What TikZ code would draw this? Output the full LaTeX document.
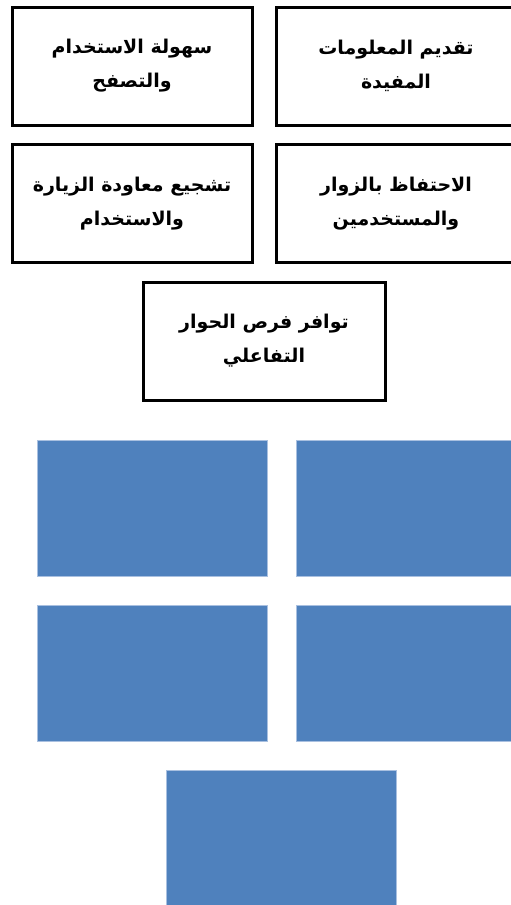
\documentclass[tikz,border=0pt]{standalone}
\usepackage{fontspec}
\TeXXeTstate=1
\newfontfamily\arabicfont[Script=Arabic]{DejaVu Sans}
\begin{document}
\begin{tikzpicture}[x=1pt,y=-1pt,
  txtbox/.style={draw=black,line width=3pt,fill=white,minimum width=240pt,minimum height=118pt,
    inner sep=0pt,align=center,font=\arabicfont\bfseries\fontsize{19}{34}\selectfont},
  bluebox/.style={draw=bluebdr,line width=0.6pt,fill=bluefill,
    minimum width=230pt,minimum height=136pt,inner sep=0pt}]
\definecolor{bluefill}{HTML}{4F81BD}
\definecolor{bluebdr}{HTML}{A9C0E0}
\useasboundingbox (0,0) rectangle (511,905);
\fill[white] (0,0) rectangle (511,905);
\node[txtbox] (b1) at (132,66) {\beginR سهولة الاستخدام\endR\\\beginR والتصفح\endR};
\node[txtbox] (b2) at (396,66) {\beginR تقديم المعلومات\endR\\\beginR المفيدة\endR};
\node[txtbox] (b3) at (132,203.5) {\beginR تشجيع معاودة الزيارة\endR\\\beginR والاستخدام\endR};
\node[txtbox] (b4) at (396,203.5) {\beginR الاحتفاظ بالزوار\endR\\\beginR والمستخدمين\endR};
\node[txtbox,minimum width=242pt] (b5) at (264,341) {\beginR توافر فرص الحوار\endR\\\beginR التفاعلي\endR};
\node[bluebox] (r1) at (152,508) {};
\node[bluebox] (r2) at (411,508) {};
\node[bluebox] (r3) at (152,673) {};
\node[bluebox] (r4) at (411,673) {};
\node[bluebox] (r5) at (281,838) {};
\end{tikzpicture}
\end{document}
